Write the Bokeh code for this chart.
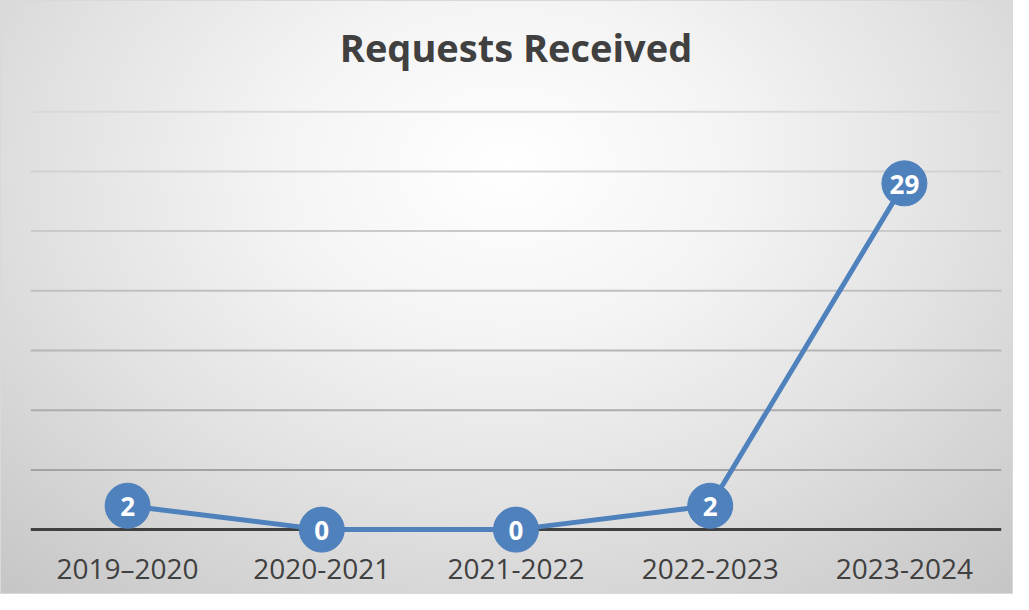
from bokeh.plotting import figure
from bokeh.models import FactorRange, Range1d, Span, Label, ColumnDataSource
from bokeh.core.properties import value
from bokeh.embed import file_html
from bokeh.resources import INLINE

# ---- data ----
years = ["2019\u20132020", "2020-2021", "2021-2022", "2022-2023", "2023-2024"]
requests = [2, 0, 0, 2, 29]
labels = [str(v) for v in requests]
grid_values = [5, 10, 15, 20, 25, 30, 35]
title_text = "Requests Received"

FONT = "Open Sans"
TEXT = "#404040"
BLUE = "#4f81bd"

W, H = 1013, 594
p = figure(width=W, height=H, output_backend="svg", toolbar_location=None,
           x_range=FactorRange(*years, range_padding=0),
           y_range=Range1d(-2.0, 44.23),
           min_border_left=29, min_border_right=13, min_border_top=0, min_border_bottom=42)

p.background_fill_color = None
p.border_fill_color = None
p.outline_line_color = None
p.styles = {
    "background-image": "radial-gradient(ellipse 75% 95% at 50% 28%, #ffffff 0%, #f4f4f4 30%, #e2e2e2 60%, #cdcdcd 90%, #c6c6c6 100%)",
    "border": "1px solid #d9d9d9",
    "box-sizing": "border-box",
}

p.ygrid.visible = False
p.xgrid.visible = False
p.yaxis.visible = False

# gridlines (lighter toward the top)
grid_cols = ["#a3a3a3", "#acacac", "#b6b6b6", "#c0c0c0", "#cacaca", "#d2d2d2", "#d9d9d9"]
for v, c in zip(grid_values, grid_cols):
    p.add_layout(Span(location=v, dimension="width", line_color=c, line_width=2, level="underlay"))
# zero baseline
p.add_layout(Span(location=0, dimension="width", line_color=TEXT, line_width=3, level="underlay"))

ax = p.xaxis[0]
ax.axis_line_color = None
ax.major_tick_line_color = None
ax.minor_tick_line_color = None
ax.major_label_text_font = FONT
ax.major_label_text_font_size = "28px"
ax.major_label_text_color = TEXT
ax.major_label_standoff = -11

src = ColumnDataSource(dict(x=years, y=requests, t=labels))
p.line("x", "y", source=src, line_color=BLUE, line_width=5)
p.scatter("x", "y", source=src, size=45, fill_color=BLUE, line_color=BLUE)
p.text("x", "y", text="t", source=src, text_color="white", text_font=value(FONT),
       text_font_style="bold", text_font_size="26px", text_align="center",
       text_baseline="middle", y_offset=1)

p.add_layout(Label(x=2.5, y=40.4, text=title_text, text_font=FONT, text_font_style="bold",
                   text_font_size="38px", text_color=TEXT, text_align="center",
                   text_baseline="middle"))

open("out.html", "w").write(file_html(p, INLINE))
